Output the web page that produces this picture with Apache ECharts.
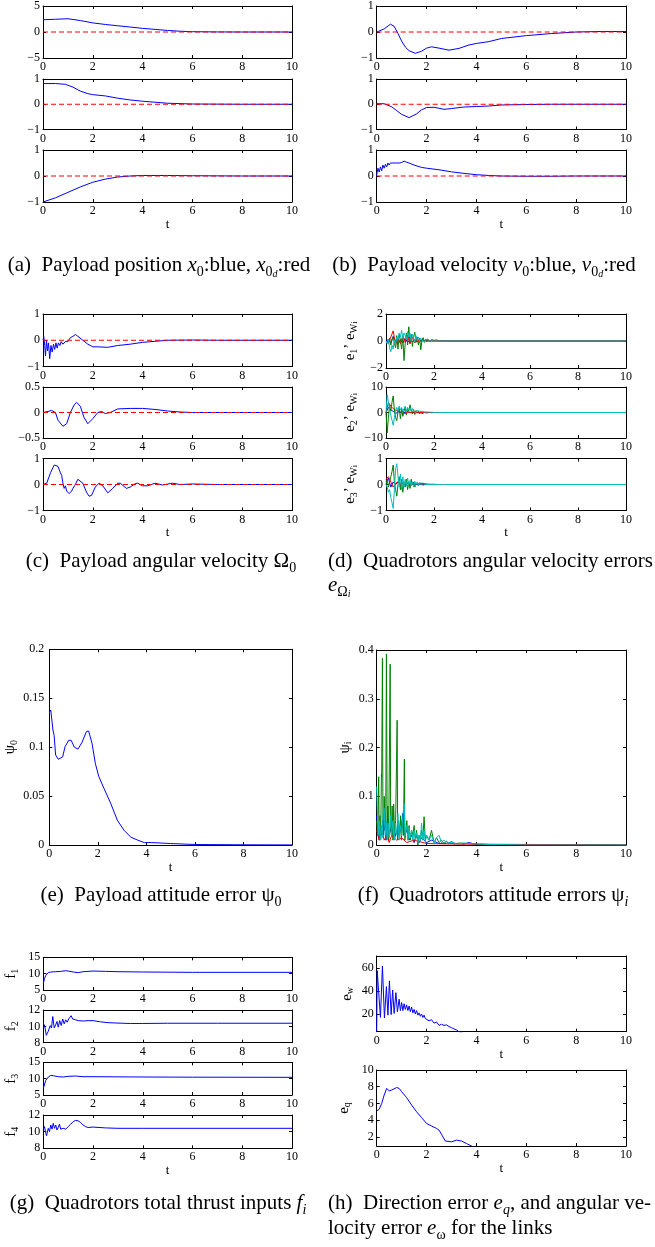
<!DOCTYPE html>
<html>
<head>
<meta charset="utf-8">
<script src="https://cdn.jsdelivr.net/npm/echarts@6/dist/echarts.min.js"></script>
<style>
  html, body { margin: 0; padding: 0; background: #fff; }
  #chart { width: 655px; height: 1247px; }
</style>
</head>
<body>
<div id="chart"></div>
<script>
// ---------------- data ----------------
const X_TICKS = [0, 2, 4, 6, 8, 10];
const T_REF = [0, 10];          // desired value is held at zero over the run
const REF_ZERO = [0, 0];

// (a) payload position components
const tA1 = [0,0.5,1,1.5,2,2.5,3,3.5,4,4.5,5,5.5,6,7,8,10];
const xA1 = [2.35,2.45,2.55,2.2,1.75,1.45,1.2,0.95,0.7,0.5,0.3,0.15,0.06,0.01,0,0];
const tA2 = [0,0.5,0.9,1.2,1.5,1.8,2,2.5,3,3.5,4,4.5,5,6,8,10];
const xA2 = [0.82,0.82,0.79,0.68,0.52,0.42,0.38,0.33,0.24,0.17,0.12,0.08,0.04,0.01,0,0];
const tA3 = [0,0.5,1,1.5,2,2.5,3,3.5,4,5,6,8,10];
const xA3 = [-1,-0.84,-0.63,-0.42,-0.24,-0.12,-0.04,0,0.02,0.02,0.01,0,0];

// (b) payload velocity components
const tB1 = [0,0.3,0.55,0.7,0.85,1,1.15,1.3,1.55,1.8,2,2.2,2.5,2.9,3.3,3.7,4,4.5,5,6,7,8,9,10];
const vB1 = [0,0.12,0.3,0.22,-0.05,-0.35,-0.58,-0.72,-0.82,-0.74,-0.62,-0.57,-0.62,-0.7,-0.63,-0.5,-0.44,-0.37,-0.25,-0.14,-0.06,0,0.02,0.02];
const tB2 = [0,0.3,0.6,0.8,1,1.3,1.6,1.8,2,2.3,2.7,3,3.5,4,4.5,5,6,7,10];
const vB2 = [0.02,0.02,-0.1,-0.25,-0.4,-0.53,-0.38,-0.22,-0.13,-0.12,-0.2,-0.17,-0.11,-0.09,-0.07,-0.03,-0.01,0,0];
const tB3 = [0,0.05,0.1,0.15,0.2,0.25,0.3,0.35,0.4,0.45,0.5,0.55,0.6,0.65,0.7,0.8,0.9,1,1.1,1.2,1.3,1.5,1.8,2,2.5,3,3.5,4,4.5,5,6,7,8,10];
const vB3 = [0.05,0.3,0.15,0.35,0.2,0.42,0.3,0.45,0.35,0.5,0.42,0.5,0.45,0.5,0.46,0.5,0.5,0.52,0.57,0.53,0.5,0.42,0.33,0.3,0.24,0.16,0.1,0.05,0.02,0,-0.01,-0.01,0,0];

// (c) payload angular velocity components
const tC1 = [0,0.03,0.07,0.1,0.14,0.18,0.22,0.27,0.32,0.37,0.42,0.47,0.52,0.57,0.62,0.68,0.73,0.8,0.9,1,1.1,1.2,1.3,1.4,1.6,1.8,2,2.2,2.6,3,3.5,4,4.5,5,6,7,10];
const wC1 = [0,0.15,-0.2,-0.6,0,-0.4,-0.1,-0.7,-0.2,-0.45,-0.15,-0.35,-0.1,-0.3,-0.1,-0.2,-0.05,-0.15,-0.05,-0.05,0.1,0.15,0.22,0.15,0,-0.15,-0.25,-0.25,-0.27,-0.2,-0.15,-0.08,-0.04,0,0.01,0,0];
const tC2 = [0,0.2,0.35,0.5,0.6,0.8,0.95,1.1,1.25,1.35,1.5,1.65,1.8,2,2.2,2.35,2.5,2.7,3,3.5,4,4.5,5,5.5,6,10];
const wC2 = [0,0.02,0.04,0,-0.15,-0.27,-0.22,0,0.15,0.2,0.12,-0.1,-0.22,-0.12,0,0.02,-0.02,0,0.07,0.08,0.08,0.06,0.03,0.01,0,0];
const tC3 = [0,0.15,0.3,0.45,0.5,0.6,0.7,0.75,0.8,0.85,0.9,0.95,1,1.05,1.1,1.15,1.2,1.3,1.4,1.45,1.6,1.75,1.85,1.95,2.1,2.25,2.4,2.6,2.8,3,3.1,3.35,3.5,3.7,3.8,4,4.2,4.5,4.8,5.2,5.5,6,7,10];
const wC3 = [0,0.05,0.45,0.75,0.82,0.7,0.45,0.35,0.05,-0.15,-0.05,-0.25,-0.2,-0.35,-0.3,-0.25,-0.15,0,0.2,0.27,0.05,-0.3,-0.45,-0.42,-0.1,0.05,-0.05,-0.32,-0.15,0.05,0.05,-0.15,-0.1,0.03,0.05,-0.05,-0.05,0.05,-0.02,0.05,0,0.02,0,0];

// (d) quadrotor angular velocity errors, four vehicles per component
const T05 = [0,0.05,0.1,0.15,0.2,0.25,0.3,0.35,0.4,0.45,0.5,0.55,0.6,0.65,0.7,0.75,0.8,0.85,0.9,0.95,1,1.05,1.1,1.15,1.2,1.25,1.3,1.35,1.4,1.45,1.5,1.55,1.6,1.65,1.7,1.75,1.8,1.85,1.9,1.95,2,2.05,2.1,2.15,2.2,2.25,2.3,2.35,2.4,2.45,2.5,3,10];
const T10 = [0,0.1,0.2,0.3,0.4,0.5,0.6,0.7,0.8,0.9,1,1.1,1.2,1.3,1.4,1.5,1.6,1.7,1.8,1.9,2,2.1,2.2,2.3,2.4,2.5,3,10];
const d1Blue  = [0,0.1,-0.15,0.35,0,-0.2,0.1,-0.15,0.2,-0.1, 0.1,-0.05,0.08,-0.05,0.05,0,0.03,0,0,0, 0,0,0,0,0,0, 0,0];
const d1Green = [0,0.1,-0.15,0.2,-0.3,0.1,0.3,-0.2,-0.5,0.4, -0.6,0.5,0.1,-0.6,0.4,-1.45,-0.2,0.6,-0.3,1.05, -0.2,0.5,-0.4,0.3,0.65,-0.1,0.3,-0.3,0.2,-0.65, 0.1,0.25,-0.1,0.15,-0.05,0.1,0.15,-0.05,0.1,0, 0.05,-0.05,0.08,0,0.03,-0.02,0.02,0,0.01,0, 0,0,0];
const d1Red   = [0,-0.2,0.3,0.75,-0.3,0.2,-0.2,0.4,-0.1,0.45, -0.2,0.3,-0.15,0.2,-0.1,0.15,-0.05,0.1,0,0.05, 0,0.03,0,0.01,0,0, 0,0];
const d1Cyan  = [0,-0.2,0.1,-0.5,-0.8,-0.3,-0.6,0.1,-0.3,0.3, 0.1,0.6,0.3,0.8,0.2,0.6,0.4,0.1,0.7,0.3, 0.55,0,0.5,0.2,-0.1,0.4,0.05,0.3,-0.05,0.2, 0.05,0.15,-0.05,0.1,0.05,0.15,0,0.1,0.02,0.06, 0,0.04,0,0.02,0,0.01,0,0.01,0,0, 0,0,0];
const d2Blue  = [0,2,1,0.5,-0.5,0.3,0,0.4,-0.2,0.2, 0,0.1,-0.1,0.05,0,0,0,0,0,0, 0,0,0,0,0,0, 0,0];
const d2Green = [0,-8,-2,3,0.5,4,6.5,1,-2,-3.2, 0.5,2,-2.5,1.5,-1.5,0.5,2,-1,1.5,0.5, 3,1,-0.5,1.2,-0.8,0.8,-0.3,0.5,-0.6,0.3, -0.5,0.2,0,0.3,-0.2,0.2,0,0.15,-0.1,0.1, 0,0.05,-0.05,0.03,0,0.02,0,0,0,0, 0,0,0];
const d2Red   = [0,4,2.5,1.5,1,0.5,0.3,-0.5,-0.3,0.2, 0,-0.2,0,0.1,-0.1,0,0.05,0,0,0, 0,0,0,0,0,0, 0,0];
const d2Cyan  = [0,7,4,1,-1,-3,-5,-2,0.5,2, 0.5,2.5,1,2,0.5,1.5,2.5,0.5,2,1, 1.8,0.3,1.5,0.5,1,0,0.8,0.2,0.5,-0.2, 0.4,0,0.2,-0.1,0.2,0,0.15,0,0.1,0, 0.05,0,0.03,0,0.02,0,0,0,0,0, 0,0,0];
const d3Blue  = [0.1,0.25,-0.1,0.1,0,0.1,-0.05,0.05,0,0.05, 0,0,0,0,0,0,0,0,0,0, 0,0,0,0,0,0, 0,0];
const d3Green = [0,0.2,-0.1,0.1,0.3,0.5,0.75,0.1,-0.2,-0.45, 0,0.3,-0.2,0.2,-0.3,0.1,-0.1,0.2,-0.2,0.1, -0.15,0.2,0,0.1,-0.1,0.05,0.1,-0.05,0.05,0, 0.05,0,0.03,0,0,0,0,0,0,0, 0,0,0,0,0,0,0,0,0,0, 0,0,0];
const d3Red   = [0.2,0.3,0.1,-0.1,0.05,0.1,0.02,0.05,0,0.05, 0.02,0.03,0.05,0.03,0.03,0.02,0.02,0.02,0.01,0.01, 0.01,0,0,0,0,0, 0,0];
const d3Cyan  = [0,-0.1,-0.3,-0.2,-0.5,-0.7,-0.92,-0.2,0.6,0.8, 0.3,-0.1,0.4,-0.2,0.3,-0.1,0.2,-0.05,0.25,0, 0.15,-0.05,0.1,-0.1,0.12,0,0.1,-0.05,0.08,0, 0.05,-0.03,0.03,0,0.02,0,0.01,0,0,0, 0,0,0,0,0,0,0,0,0,0, 0,0,0];

// (e) payload attitude error
const tE = [0,0.06,0.15,0.2,0.26,0.37,0.44,0.55,0.65,0.8,0.9,1.03,1.18,1.35,1.53,1.62,1.76,1.9,2.04,2.25,2.53,2.8,3.08,3.36,3.64,3.92,4.2,5,6,8,10];
const psi0 = [0.135,0.138,0.1175,0.112,0.092,0.0876,0.086,0.09,0.1005,0.107,0.107,0.1,0.098,0.105,0.116,0.1165,0.104,0.083,0.07,0.058,0.0426,0.0255,0.015,0.008,0.005,0.0024,0.0025,0.0015,0.0005,0.0002,0.0001];

// (f) quadrotor attitude errors, [t, psi_i]
const psiBlue = [[0,0.06],[0.05,0.03],[0.1,0.01],[0.15,0.04],[0.2,0.02],[0.25,0.05],[0.3,0.03],[0.35,0.05],[0.4,0.01],[0.45,0.04],[0.5,0.02],[0.6,0.04],[0.7,0.01],[0.8,0.03],[0.9,0.02],[1.0,0.04],[1.05,0.065],[1.1,0.02],[1.2,0.03],[1.3,0.01],[1.4,0.02],[1.5,0.005],[1.6,0.02],[1.7,0.005],[1.8,0.015],[2.0,0.005],[2.2,0.01],[2.5,0.003],[3,0.004],[3.5,0.002],[3.7,0.005],[4,0.001],[5,0.001],[10,0]];
const psiGreen = [[0,0.05],[0.04,0.02],[0.08,0.14],[0.1,0.02],[0.13,0.06],[0.16,0.01],[0.19,0.145],[0.2,0.14],[0.23,0.383],[0.25,0.05],[0.27,0.02],[0.3,0.1],[0.33,0.05],[0.36,0.01],[0.39,0.392],[0.42,0.03],[0.45,0.08],[0.48,0.01],[0.54,0.371],[0.56,0.04],[0.59,0.02],[0.62,0.08],[0.65,0.01],[0.68,0.084],[0.72,0.02],[0.76,0.05],[0.82,0.256],[0.84,0.01],[0.88,0.05],[0.92,0.02],[0.96,0.06],[0.99,0.01],[1.03,0.05],[1.07,0.02],[1.11,0.176],[1.13,0.01],[1.17,0.03],[1.21,0.05],[1.25,0.01],[1.3,0.04],[1.35,0.01],[1.4,0.03],[1.45,0.02],[1.5,0.04],[1.55,0.01],[1.6,0.03],[1.65,0],[1.7,0.02],[1.75,0.01],[1.8,0.03],[1.85,0.01],[1.9,0.058],[1.95,0.01],[2.0,0.02],[2.1,0.01],[2.2,0.03],[2.3,0.005],[2.4,0.015],[2.5,0.005],[2.6,0.01],[2.7,0.003],[2.8,0.008],[2.9,0.002],[3.0,0.008],[3.1,0.002],[3.3,0.004],[3.6,0.003],[4,0.002],[4.5,0.001],[5,0.001],[6,0],[10,0]];
const psiRed = [[0,0.03],[0.1,0.01],[0.2,0.03],[0.3,0.01],[0.4,0.02],[0.5,0.005],[0.6,0.02],[0.8,0.01],[1.0,0.015],[1.2,0.005],[1.5,0.01],[2,0.003],[3,0.002],[10,0]];
const psiCyan = [[0,0.12],[0.03,0.06],[0.06,0.02],[0.1,0.05],[0.14,0.01],[0.18,0.04],[0.22,0.015],[0.26,0.065],[0.3,0.075],[0.34,0.02],[0.38,0.05],[0.42,0.01],[0.46,0.045],[0.5,0.015],[0.55,0.06],[0.6,0.02],[0.65,0.05],[0.7,0.01],[0.75,0.045],[0.8,0.02],[0.85,0.065],[0.9,0.01],[0.95,0.04],[1.0,0.02],[1.05,0.06],[1.1,0.085],[1.14,0.02],[1.2,0.04],[1.25,0.01],[1.3,0.035],[1.35,0.015],[1.4,0.03],[1.45,0.01],[1.5,0.03],[1.55,0.01],[1.6,0.025],[1.65,0.005],[1.7,0.02],[1.75,0.01],[1.8,0.045],[1.85,0.01],[1.9,0.03],[1.95,0.005],[2.0,0.02],[2.1,0.01],[2.2,0.02],[2.3,0.005],[2.4,0.015],[2.5,0.02],[2.6,0.005],[2.7,0.01],[2.8,0.003],[3.0,0.006],[3.2,0.002],[3.5,0.004],[3.8,0.003],[4,0.002],[4.5,0.001],[5,0.001],[6,0],[10,0]];

// (g) total thrust of each quadrotor
const tG1 = [0,0.05,0.1,0.2,0.3,0.5,0.7,0.9,1.0,1.2,1.4,1.6,2,2.5,3,4,6,10];
const fG1 = [7,8.5,9.5,10.3,10.5,10.6,10.7,10.9,10.8,10.5,10.3,10.6,10.8,10.7,10.6,10.5,10.4,10.4];
const tG2 = [0,0.06,0.12,0.2,0.28,0.33,0.38,0.44,0.5,0.55,0.6,0.66,0.72,0.78,0.84,0.9,0.96,1.02,1.08,1.12,1.18,1.3,1.4,1.6,1.8,2.0,2.3,2.6,3,3.5,4,5,7,10];
const fG2 = [10.4,10.0,8.9,9.4,10.1,9.8,11.2,9.8,10.2,10.6,9.9,10.7,10.1,10.9,10.3,10.8,10.5,10.9,10.8,11.3,10.9,10.8,10.7,10.65,10.7,10.7,10.55,10.45,10.4,10.35,10.35,10.38,10.38,10.38];
const tG3 = [0,0.1,0.2,0.3,0.4,0.6,0.8,1.0,1.3,1.6,2,3,4,6,10];
const fG3 = [7,9.5,10.5,11,10.9,10.6,10.5,10.7,10.8,10.6,10.6,10.55,10.5,10.45,10.4];
const tG4 = [0,0.05,0.1,0.13,0.2,0.25,0.3,0.35,0.4,0.45,0.5,0.55,0.6,0.65,0.7,0.8,0.9,1.0,1.1,1.2,1.3,1.4,1.5,1.6,1.7,1.8,2.0,2.5,3,4,10];
const fG4 = [10.3,10.6,9.8,9.5,10.4,10.0,10.8,10.3,11.0,10.4,10.8,10.2,10.5,10.9,10.3,10.4,10.3,10.6,10.9,11.2,11.35,11.3,11.1,10.8,10.6,10.5,10.55,10.45,10.4,10.4,10.4];

// (h) link angular velocity error and direction error
const tH1 = [0,0.02,0.06,0.1,0.15,0.23,0.31,0.39,0.45,0.51,0.58,0.64,0.7,0.77,0.83,0.9,0.95,1.0,1.05,1.1,1.15,1.2,1.25,1.3,1.35,1.4,1.45,1.5,1.55,1.6,1.65,1.7,1.75,1.8,1.85,1.9,1.95,2.0,2.1,2.2,2.3,2.4,2.5,2.6,2.7,2.8,2.9,3.0,3.1,3.2,3.3,3.5,4,5,10];
const ew = [5,58,59,58,17,62,16.6,44,19,49,19.5,41,20.5,38.7,22,33,23,30,23,29,24,28,23,27,22,26,21,24,20,23,19,21,18,20,17,19,16,17,14,15,12,13,10,11,10,10.5,9,8,7,6,4.5,2.5,1,0.3,0];
const tH2 = [0,0.1,0.2,0.3,0.4,0.5,0.6,0.8,0.9,1.0,1.2,1.4,1.6,1.8,2.0,2.2,2.4,2.5,2.6,2.75,3.0,3.2,3.4,3.6,3.8,4,5,10];
const eq = [5.1,5.3,6.0,7.0,7.8,7.5,7.6,7.9,7.8,7.4,6.7,5.8,5.0,4.3,3.6,3.3,3.0,2.8,2.3,1.5,1.4,1.6,1.5,1.2,0.9,0.6,0.2,0];

// ---------------- styling helpers ----------------
const FONT = '"Liberation Serif", "Times New Roman", Times, serif';
const COL = { blue: '#0000ff', green: '#008000', red: '#ff0000', cyan: '#00bfbf' };
const zip = (t, v) => t.map((x, i) => [x, v[i]]);
const fmt = v => String(v).replace('-', '\u2212');

const RICH_AX = {
  m:  { fontFamily: FONT, fontSize: 15, lineHeight: 18, color: '#000' },
  s:  { fontFamily: FONT, fontSize: 10, lineHeight: 11, verticalAlign: 'bottom', color: '#000' },
  ss: { fontFamily: FONT, fontSize: 8, lineHeight: 7, verticalAlign: 'bottom', color: '#000' }
};
const RICH_CAP = {
  r:   { fontFamily: FONT, fontSize: 21, lineHeight: 28, fill: '#000', color: '#000' },
  i:   { fontFamily: FONT, fontSize: 21, lineHeight: 28, fontStyle: 'italic', fill: '#000', color: '#000' },
  s:   { fontFamily: FONT, fontSize: 14, lineHeight: 17, verticalAlign: 'bottom', fill: '#000', color: '#000' },
  si:  { fontFamily: FONT, fontSize: 14, lineHeight: 17, fontStyle: 'italic', verticalAlign: 'bottom', fill: '#000', color: '#000' },
  ssi: { fontFamily: FONT, fontSize: 10, lineHeight: 8, fontStyle: 'italic', verticalAlign: 'bottom', fill: '#000', color: '#000' }
};

const grids = [], xAxes = [], yAxes = [], series = [];
const AX_LINE = { show: true, onZero: false, lineStyle: { color: '#000', width: 1 } };
const LBL = { color: '#000', fontFamily: FONT, fontSize: 12 };

function addPlot(p) {
  const gi = grids.length, xi = xAxes.length, yi = yAxes.length;
  grids.push({ left: p.l, top: p.t, width: p.w, height: p.h });
  xAxes.push({
    gridIndex: gi, type: 'value', min: 0, max: 10, interval: 2, position: 'bottom',
    axisLine: AX_LINE, axisTick: { inside: true, length: 3, lineStyle: { color: '#000' } },
    axisLabel: Object.assign({ margin: 3, formatter: fmt }, LBL),
    splitLine: { show: false },
    name: p.tName ? 't' : '', nameLocation: 'middle', nameGap: 15,
    nameTextStyle: { color: '#000', fontFamily: FONT, fontSize: 13 }
  });
  xAxes.push({
    gridIndex: gi, type: 'value', min: 0, max: 10, interval: 2, position: 'top',
    axisLine: AX_LINE, axisTick: { inside: true, length: 3, lineStyle: { color: '#000' } },
    axisLabel: { show: false }, splitLine: { show: false }
  });
  yAxes.push({
    gridIndex: gi, type: 'value', min: p.ymin, max: p.ymax, position: 'left',
    axisLine: AX_LINE,
    axisTick: { inside: true, length: 3, customValues: p.ticks, lineStyle: { color: '#000' } },
    axisLabel: Object.assign({ margin: p.lblMargin || 3, customValues: p.ticks, formatter: fmt }, LBL),
    splitLine: { show: false },
    name: p.yName || '', nameLocation: 'middle', nameRotate: 90, nameGap: p.nameGap || 20,
    nameTextStyle: { fontFamily: FONT, fontSize: 15, color: '#000', rich: RICH_AX }
  });
  yAxes.push({
    gridIndex: gi, type: 'value', min: p.ymin, max: p.ymax, position: 'right',
    axisLine: AX_LINE,
    axisTick: { inside: true, length: 3, customValues: p.ticks, lineStyle: { color: '#000' } },
    axisLabel: { show: false }, splitLine: { show: false }
  });
  p.lines.forEach(s => series.push({
    type: 'line', xAxisIndex: xi, yAxisIndex: yi, data: s.data,
    showSymbol: false, symbol: 'none', silent: true, animation: false, clip: true,
    lineStyle: { color: s.color, width: 1, type: s.dash ? [5, 3] : 'solid' }
  }));
}

const withRef = (t, v) => [
  { data: zip(t, v), color: COL.blue },
  { data: zip(T_REF, REF_ZERO), color: COL.red, dash: true }
];
const four = (tb, b, tg, g, tr, r, tc, c) => [
  { data: zip(tb, b), color: COL.blue },
  { data: zip(tg, g), color: COL.green },
  { data: zip(tr, r), color: COL.red },
  { data: zip(tc, c), color: COL.cyan }
];

// (a)
const LA = 43, WA = 249, LB = 376.7, WB = 249.3;
addPlot({ l: LA, t: 6,   w: WA, h: 52,   ymin: -5, ymax: 5, ticks: [-5, 0, 5], lines: withRef(tA1, xA1) });
addPlot({ l: LA, t: 79,  w: WA, h: 50.5, ymin: -1, ymax: 1, ticks: [-1, 0, 1], lines: withRef(tA2, xA2) });
addPlot({ l: LA, t: 150, w: WA, h: 52,   ymin: -1, ymax: 1, ticks: [-1, 0, 1], lines: withRef(tA3, xA3), tName: true });
// (b)
addPlot({ l: LB, t: 6,   w: WB, h: 52,   ymin: -1, ymax: 1, ticks: [-1, 0, 1], lines: withRef(tB1, vB1) });
addPlot({ l: LB, t: 79,  w: WB, h: 50.5, ymin: -1, ymax: 1, ticks: [-1, 0, 1], lines: withRef(tB2, vB2) });
addPlot({ l: LB, t: 150, w: WB, h: 52,   ymin: -1, ymax: 1, ticks: [-1, 0, 1], lines: withRef(tB3, vB3), tName: true });
// (c)
addPlot({ l: LA, t: 314, w: WA, h: 52.5, ymin: -1, ymax: 1, ticks: [-1, 0, 1], lines: withRef(tC1, wC1) });
addPlot({ l: LA, t: 387, w: WA, h: 51,   ymin: -0.5, ymax: 0.5, ticks: [-0.5, 0, 0.5], lines: withRef(tC2, wC2) });
addPlot({ l: LA, t: 458.5, w: WA, h: 52, ymin: -1, ymax: 1, ticks: [-1, 0, 1], lines: withRef(tC3, wC3), tName: true });
// (d)
const LD = 386, WD = 240;
addPlot({ l: LD, t: 314, w: WD, h: 54, ymin: -2, ymax: 2, ticks: [-2, 0, 2],
  yName: '{m|e}{s|1}{m|\u2019 e}{s|W}{ss|i}', nameGap: 27,
  lines: four(T10, d1Blue, T05, d1Green, T10, d1Red, T05, d1Cyan) });
addPlot({ l: LD, t: 387, w: WD, h: 51, ymin: -10, ymax: 10, ticks: [-10, 0, 10],
  yName: '{m|e}{s|2}{m|\u2019 e}{s|W}{ss|i}', nameGap: 27,
  lines: four(T10, d2Blue, T05, d2Green, T10, d2Red, T05, d2Cyan) });
addPlot({ l: LD, t: 458.5, w: WD, h: 52, ymin: -1, ymax: 1, ticks: [-1, 0, 1],
  yName: '{m|e}{s|3}{m|\u2019 e}{s|W}{ss|i}', nameGap: 27, tName: true,
  lines: four(T10, d3Blue, T05, d3Green, T10, d3Red, T05, d3Cyan) });
// (e)
addPlot({ l: 49.3, t: 649.3, w: 242.7, h: 195.7, ymin: 0, ymax: 0.2, ticks: [0, 0.05, 0.1, 0.15, 0.2],
  lblMargin: 5, yName: '{m|\u03c8}{s|0}', nameGap: 30, tName: true,
  lines: [{ data: zip(tE, psi0), color: COL.blue }] });
// (f)
addPlot({ l: LB, t: 650, w: WB, h: 195, ymin: 0, ymax: 0.4, ticks: [0, 0.1, 0.2, 0.3, 0.4],
  yName: '{m|\u03c8}{s|i}', nameGap: 23, tName: true,
  lines: [
    { data: psiBlue, color: COL.blue }, { data: psiGreen, color: COL.green },
    { data: psiRed, color: COL.red }, { data: psiCyan, color: COL.cyan }
  ] });
// (g)
const LG = 43.3, WG = 248.7;
addPlot({ l: LG, t: 957.3, w: WG, h: 32.7, ymin: 5, ymax: 15, ticks: [5, 10, 15], yName: '{m|f}{s|1}', nameGap: 23,
  lines: [{ data: zip(tG1, fG1), color: COL.blue }] });
addPlot({ l: LG, t: 1010, w: WG, h: 32.7, ymin: 8, ymax: 12, ticks: [8, 10, 12], yName: '{m|f}{s|2}', nameGap: 23,
  lines: [{ data: zip(tG2, fG2), color: COL.blue }] });
addPlot({ l: LG, t: 1062.3, w: WG, h: 32.7, ymin: 5, ymax: 15, ticks: [5, 10, 15], yName: '{m|f}{s|3}', nameGap: 23,
  lines: [{ data: zip(tG3, fG3), color: COL.blue }] });
addPlot({ l: LG, t: 1115, w: WG, h: 33.3, ymin: 8, ymax: 12, ticks: [8, 10, 12], yName: '{m|f}{s|4}', nameGap: 23, tName: true,
  lines: [{ data: zip(tG4, fG4), color: COL.blue }] });
// (h)
addPlot({ l: LB, t: 956, w: WB, h: 75.7, ymin: 4.5, ymax: 70.8, ticks: [20, 40, 60], yName: '{m|e}{s|w}', nameGap: 21, tName: true,
  lines: [{ data: zip(tH1, ew), color: COL.blue }] });
addPlot({ l: LB, t: 1070, w: WB, h: 76, ymin: 0.9, ymax: 10, ticks: [2, 4, 6, 8, 10], yName: '{m|e}{s|q}', nameGap: 24, tName: true,
  lines: [{ data: zip(tH2, eq), color: COL.blue }] });

// ---------------- captions ----------------
function caption(x, y, text, align) {
  return {
    type: 'text', x: x, y: y, silent: true,
    style: {
      text: text, rich: RICH_CAP, fill: '#000',
      fontFamily: FONT, fontSize: 21,
      align: align || 'center', verticalAlign: 'middle'
    }
  };
}
const captions = [
  caption(159, 265, '{r|(a)  Payload position }{i|x}{s|0}{r|:blue, }{i|x}{s|0}{ssi|d}{r|:red}'),
  caption(484, 265, '{r|(b)  Payload velocity }{i|v}{s|0}{r|:blue, }{i|v}{s|0}{ssi|d}{r|:red}'),
  caption(161, 561, '{r|(c)  Payload angular velocity \u03a9}{s|0}'),
  caption(328, 561, '{r|(d)  Quadrotors angular velocity errors}', 'left'),
  caption(328, 585, '{i|e}{s|\u03a9}{ssi|i}', 'left'),
  caption(161, 895, '{r|(e)  Payload attitude error \u03c8}{s|0}'),
  caption(493, 895, '{r|(f)  Quadrotors attitude errors \u03c8}{si|i}'),
  caption(158, 1203, '{r|(g)  Quadrotors total thrust inputs }{i|f}{si|i}'),
  caption(328, 1203, '{r|(h)  Direction error }{i|e}{si|q}{r|, and angular ve-}', 'left'),
  caption(328, 1228, '{r|locity error }{i|e}{s|\u03c9}{r| for the links}', 'left')
];

const chart = echarts.init(document.getElementById('chart'), null, { renderer: 'canvas' });
chart.setOption({
  animation: false,
  backgroundColor: '#fff',
  grid: grids,
  xAxis: xAxes,
  yAxis: yAxes,
  series: series,
  graphic: captions
});
</script>
</body>
</html>
